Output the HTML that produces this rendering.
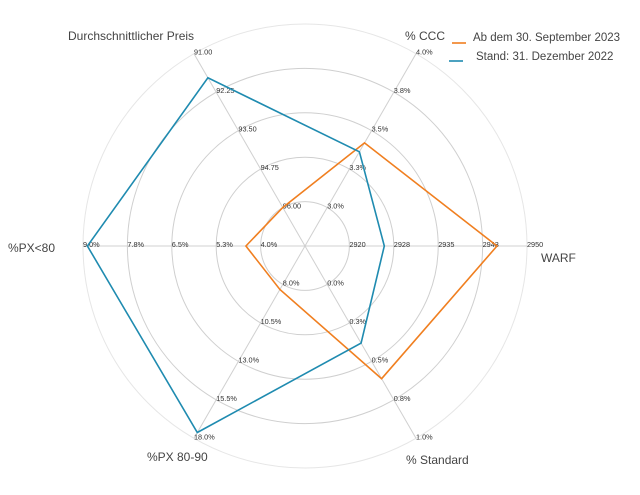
<!DOCTYPE html>
<html><head><meta charset="utf-8"><style>
html,body{margin:0;padding:0;background:#fff;}
svg{display:block;font-family:"Liberation Sans",Arial,sans-serif;}
</style></head><body>
<svg id="s" width="640" height="495" viewBox="0 0 640 495" xmlns="http://www.w3.org/2000/svg">
<rect width="640" height="495" fill="#fff"/>
<g id="grid"></g>
<g id="ticks" font-size="7.3" fill="#333"></g>
<g id="series"></g>
<g font-size="12" fill="#444">
<text x="68" y="40">Durchschnittlicher Preis</text>
<text x="405" y="40">% CCC</text>
<text x="541" y="262">WARF</text>
<text x="8" y="252">%PX&lt;80</text>
<text x="147" y="461">%PX 80-90</text>
<text x="406" y="464">% Standard</text>
</g>
<line x1="452" y1="43" x2="466" y2="43" stroke="#f07f20" stroke-width="1.6"/>
<text x="473" y="41" font-size="11.5" fill="#444">Ab dem 30. September 2023</text>
<line x1="449" y1="61" x2="463" y2="61" stroke="#1f8bb0" stroke-width="1.6"/>
<text x="476" y="60" font-size="11.5" fill="#444">Stand: 31. Dezember 2022</text>
</svg>
<script>
var cx=305,cy=246,R=222,NS="http://www.w3.org/2000/svg";
function el(t,a,p){var e=document.createElementNS(NS,t);for(var k in a)e.setAttribute(k,a[k]);p.appendChild(e);return e;}
var g=document.getElementById('grid'),tk=document.getElementById('ticks'),sr=document.getElementById('series');
for(var i=1;i<=5;i++)el('circle',{cx:cx,cy:cy,r:R*i/5,fill:'none',stroke:i==5?'#e6e6e6':'#cfcfcf','stroke-width':1},g);
var labs=[["2920","2928","2935","2943","2950"],["3.0%","3.3%","3.5%","3.8%","4.0%"],["96.00","94.75","93.50","92.25","91.00"],["4.0%","5.3%","6.5%","7.8%","9.0%"],["8.0%","10.5%","13.0%","15.5%","18.0%"],["0.0%","0.3%","0.5%","0.8%","1.0%"]];
function pt(k,f){var a=k*Math.PI/3;return [cx+R*f*Math.cos(a),cy-R*f*Math.sin(a)];}
for(var k=0;k<6;k++){var p=pt(k,1);el('line',{x1:cx,y1:cy,x2:p[0],y2:p[1],stroke:'#d0d0d0','stroke-width':1},g);
for(var i=1;i<=5;i++){var q=pt(k,i/5);var t=el('text',{x:q[0],y:q[1]+1},tk);t.textContent=labs[k][i-1];}}
function poly(v,c){var s=[];for(var k=0;k<6;k++){var p=pt(k,v[k]);s.push(p[0].toFixed(1)+','+p[1].toFixed(1));}
el('polygon',{points:s.join(' '),fill:'none',stroke:c,'stroke-width':1.6},sr);}
poly([0.865,0.536,0.2,0.266,0.226,0.69],'#f07f20');
poly([0.357,0.49,0.875,0.98,0.97,0.505],'#1f8bb0');
</script>
</body></html>
